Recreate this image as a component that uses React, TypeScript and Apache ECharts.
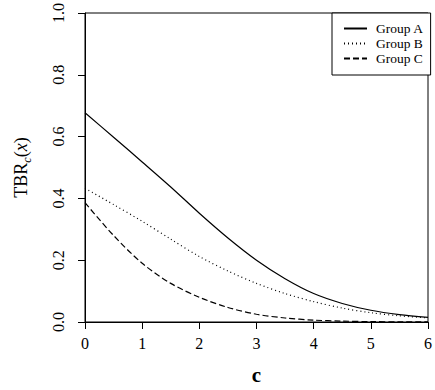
import React, { useEffect, useRef } from "react";
import * as echarts from "echarts";

const cValues = [0, 0.5, 1, 1.5, 2, 2.5, 3, 3.5, 4, 4.5, 5, 5.5, 6];
const groupA = [0.677, 0.598, 0.518, 0.437, 0.352, 0.272, 0.2, 0.14, 0.092, 0.06, 0.038, 0.024, 0.015];
const groupB = [0.433, 0.38, 0.326, 0.268, 0.212, 0.165, 0.125, 0.092, 0.066, 0.045, 0.03, 0.02, 0.013];
const groupC = [0.386, 0.28, 0.19, 0.125, 0.08, 0.047, 0.025, 0.013, 0.006, 0.003, 0.0012, 0.0005, 0.0002];
const seriesNames = ["Group A", "Group B", "Group C"];

const FONT = "'Liberation Serif', 'DejaVu Serif', serif";

export default function App() {
  const ref = useRef<HTMLDivElement>(null);
  useEffect(() => {
    if (!ref.current) return;
    const chart = echarts.init(ref.current, null, { renderer: "svg" });
    const pairs = (ys: number[]) => cValues.map((c, i) => [c, ys[i]]);
    const mk = (name: string, ys: number[], type: any) => ({
      name,
      type: "line",
      data: pairs(ys),
      symbol: "circle",
      symbolSize: 0,
      showSymbol: false,
      smooth: 0.3,
      lineStyle: { color: "#000", width: 1.2, type },
      itemStyle: { color: "#000" },
    });
    chart.setOption({
      animation: false,
      backgroundColor: "#fff",
      textStyle: { fontFamily: FONT, color: "#000" },
      grid: {
        left: 85,
        top: 13,
        right: 3,
        bottom: 68,
        show: true,
        borderColor: "#000",
        borderWidth: 1,
        backgroundColor: "transparent",
      },
      legend: {
        orient: "vertical",
        left: 332,
        top: 13,
        data: seriesNames,
        itemWidth: 23,
        itemHeight: 10,
        itemGap: 0,
        padding: [8, 7, 9, 11],
        borderColor: "#000",
        borderWidth: 1,
        borderRadius: 0,
        backgroundColor: "#fff",
        itemStyle: { color: "transparent", borderColor: "transparent", borderWidth: 0, opacity: 0 },
        textStyle: { fontFamily: FONT, fontSize: 13.5, lineHeight: 15, color: "#000", padding: [0, 0, 0, 4] },
      },
      xAxis: {
        type: "value",
        min: 0,
        max: 6,
        interval: 1,
        name: "c",
        nameLocation: "middle",
        nameGap: 42,
        nameTextStyle: { fontFamily: FONT, fontSize: 21, fontWeight: "bold", color: "#000" },
        axisLine: { show: true, lineStyle: { color: "#000", width: 1 } },
        axisTick: { show: true, length: 7, inside: false, lineStyle: { color: "#000" } },
        axisLabel: { fontFamily: FONT, fontSize: 16, color: "#000", margin: 13 },
        splitLine: { show: false },
      },
      yAxis: {
        type: "value",
        min: 0,
        max: 1,
        interval: 0.2,
        name: "{n|TBR}{s|c}{n|(}{i|x}{n|)}",
        nameLocation: "middle",
        nameRotate: 90,
        nameGap: 52,
        nameTextStyle: {
          fontFamily: FONT,
          color: "#000",
          rich: {
            n: { fontFamily: FONT, fontSize: 18, lineHeight: 24, color: "#000" },
            i: { fontFamily: FONT, fontSize: 18, lineHeight: 24, fontStyle: "italic", color: "#000" },
            s: { fontFamily: FONT, fontSize: 12, lineHeight: 12, fontStyle: "italic", verticalAlign: "bottom", color: "#000" },
          },
        },
        axisLine: { show: true, lineStyle: { color: "#000", width: 1 } },
        axisTick: { show: true, length: 7, inside: false, lineStyle: { color: "#000" } },
        axisLabel: {
          fontFamily: FONT,
          fontSize: 16,
          color: "#000",
          rotate: 90,
          margin: 19,
          formatter: (v: number) => v.toFixed(1),
        },
        splitLine: { show: false },
      },
      series: [
        mk(seriesNames[0], groupA, "solid"),
        mk(seriesNames[1], groupB, [1, 3]),
        mk(seriesNames[2], groupC, [6, 3]),
      ],
    });
    return () => chart.dispose();
  }, []);
  return <div ref={ref} style={{ width: 435, height: 390, position: "absolute", left: 0, top: 0 }} />;
}
